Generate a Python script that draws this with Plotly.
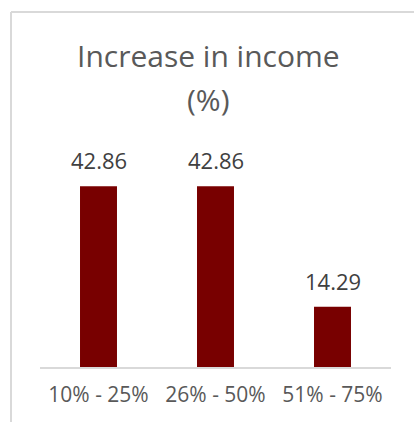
import plotly.graph_objects as go

categories = ["10% - 25%", "26% - 50%", "51% - 75%"]
values = [42.86, 42.86, 14.29]
labels = ["42.86", "42.86", "14.29"]
title_lines = ["Increase in income", "(%)"]

W, H = 414, 422
L, R, T, B = 40, 23, 156, 55
pw, ph = W - L - R, H - T - B

def px_x(x):
    return (x - L) / pw

def px_y(y):
    return (H - B - y) / ph

fig = go.Figure()
fig.add_trace(go.Bar(
    x=categories, y=values, width=0.316,
    marker=dict(color="#780000", line=dict(width=0)),
    hoverinfo="skip",
))

annotations = []
for c, v, t in zip(categories, values, labels):
    annotations.append(dict(
        x=c, y=v, xref="x", yref="y", text=t, showarrow=False,
        yanchor="bottom", yshift=9,
        font=dict(family="Open Sans", size=22, color="#404040"),
    ))

for line, ypx in zip(title_lines, [55, 99]):
    annotations.append(dict(
        x=px_x(208), xref="paper", y=px_y(ypx), yref="paper",
        xanchor="center", yanchor="middle", showarrow=False,
        text=line,
        font=dict(family="Open Sans", size=30, color="#595959"),
    ))

fig.update_layout(
    width=W, height=H,
    margin=dict(l=L, r=R, t=T, b=B),
    paper_bgcolor="white", plot_bgcolor="white",
    showlegend=False,
    xaxis=dict(
        showline=True, linecolor="#d9d9d9", linewidth=2,
        showgrid=False, zeroline=False, ticks="",
        ticklabelstandoff=8,
        tickfont=dict(family="Open Sans", size=21, color="#595959"),
    ),
    yaxis=dict(range=[0, 50], visible=False, showgrid=False, zeroline=False),
    annotations=annotations,
    shapes=[
        dict(type="line", xref="paper", yref="paper",
             x0=px_x(11), x1=px_x(11), y0=px_y(12), y1=px_y(H + 5),
             line=dict(color="#d9d9d9", width=2)),
        dict(type="line", xref="paper", yref="paper",
             x0=px_x(11), x1=px_x(W + 5), y0=px_y(12), y1=px_y(12),
             line=dict(color="#d9d9d9", width=2)),
    ],
)

fig.write_html("out.html")
